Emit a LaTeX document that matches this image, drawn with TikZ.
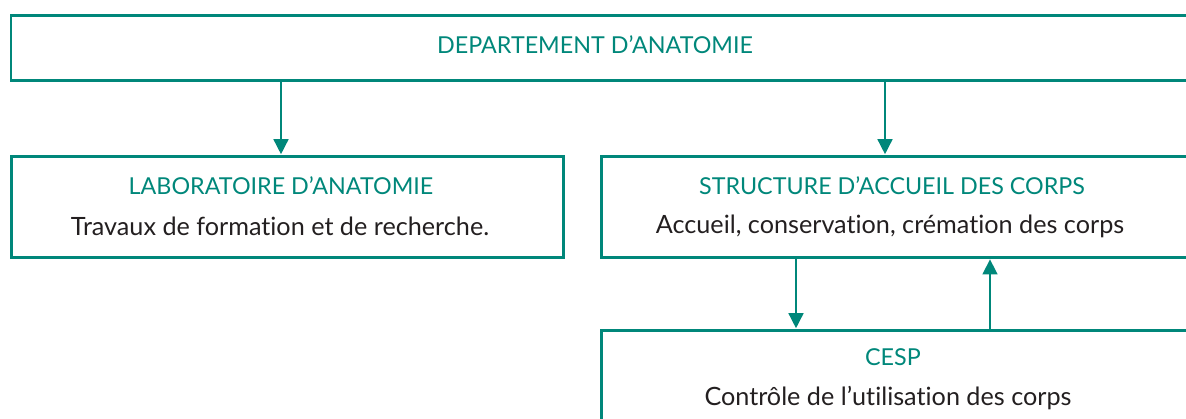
\documentclass[tikz,border=0pt]{standalone}
\usepackage{fontspec}
\setmainfont{Lato}[Ligatures={NoCommon}]
\usetikzlibrary{arrows.meta}
\definecolor{teal1}{HTML}{00877A}
\definecolor{ink}{HTML}{231F20}
\tikzset{
  box/.style={draw=teal1, line width=2.6pt, rectangle, inner sep=0pt},
  hd/.style={text=teal1, font=\fontsize{23.3}{26}\selectfont, inner sep=0pt},
  tx/.style={text=ink, font=\fontsize{25.2}{28}\selectfont, inner sep=0pt},
  arr/.style={draw=teal1, line width=1.5pt, -{Triangle[width=15pt,length=15pt]}, shorten >=0.8pt}
}
\begin{document}
\begin{tikzpicture}[x=1pt,y=1pt]
\useasboundingbox (0,0) rectangle (1186,-419);
\clip (0,0) rectangle (1186,-419);
\node[box, minimum width=1180.5pt, minimum height=65pt, anchor=north west] (dep) at (9.5,-14.5) {};
\node[box, minimum width=552pt, minimum height=101pt, anchor=north west] (lab) at (10,-155) {};
\node[box, minimum width=590pt, minimum height=101pt, anchor=north west] (sac) at (600,-155) {};
\node[box, minimum width=590pt, minimum height=101pt, anchor=north west] (cesp) at (600,-329) {};
\node[hd] (t0) at (595,-45) {DEPARTEMENT D’ANATOMIE};
\node[hd] (t1) at (281,-186) {LABORATOIRE D’ANATOMIE};
\node[tx] (t2) at (280,-226) {Travaux de formation et de recherche.};
\node[hd] (t3) at (892,-186) {STRUCTURE D’ACCUEIL DES CORPS};
\node[tx] (t4) at (890,-226) {Accueil, conservation, crémation des corps};
\node[hd] (t5) at (893,-357) {CESP};
\node[tx] (t6) at (888,-398) {Contrôle de l’utilisation des corps};
\coordinate (xa) at (281,0);
\coordinate (xb) at (885,0);
\coordinate (xc) at (796,0);
\coordinate (xd) at (990,0);
\draw[arr] (dep.south -| xa) -- (lab.north -| xa);
\draw[arr] (dep.south -| xb) -- (sac.north -| xb);
\draw[arr] (sac.south -| xc) -- (cesp.north -| xc);
\draw[arr] (cesp.north -| xd) -- (sac.south -| xd);
\end{tikzpicture}
\end{document}
